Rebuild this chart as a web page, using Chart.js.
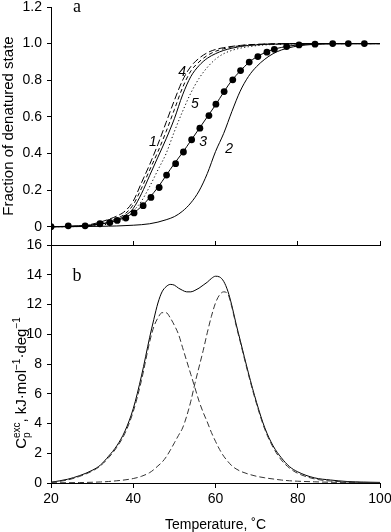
<!DOCTYPE html>
<html>
<head>
<meta charset="utf-8">
<script src="https://cdn.jsdelivr.net/npm/chart.js@4.4.1/dist/chart.umd.min.js"></script>
<style>
  html, body { margin: 0; padding: 0; background: #fff; }
  #wrap { position: relative; width: 391px; height: 532px; }
</style>
</head>
<body>
<div id="wrap"><canvas id="chart"></canvas></div>
<script>
// panel a: fraction of denatured state
var tempTop = [20, 24, 28, 32, 34, 36, 38, 40, 42, 44, 46, 48, 50, 52, 54, 56, 58, 60, 62, 64, 66, 68, 70, 72, 74, 76, 78, 80, 84, 88, 92, 96, 100];
var fracLongDash = [0, 0.001, 0.006, 0.025, 0.04, 0.058, 0.085, 0.14, 0.24, 0.34, 0.45, 0.57, 0.69, 0.8, 0.875, 0.92, 0.95, 0.968, 0.978, 0.985, 0.99, 0.994, 0.996, 0.998, 0.999, 1, 1, 1, 1, 1, 1, 1, 1];
var fracDash = [0, 0.001, 0.005, 0.018, 0.03, 0.045, 0.07, 0.12, 0.21, 0.31, 0.41, 0.52, 0.64, 0.76, 0.85, 0.9, 0.935, 0.958, 0.972, 0.982, 0.988, 0.993, 0.995, 0.997, 0.998, 0.999, 1, 1, 1, 1, 1, 1, 1];
var fracSolid1 = [0, 0.001, 0.004, 0.014, 0.024, 0.037, 0.06, 0.1, 0.18, 0.28, 0.38, 0.48, 0.59, 0.72, 0.82, 0.88, 0.92, 0.945, 0.963, 0.975, 0.984, 0.99, 0.993, 0.996, 0.997, 0.998, 0.999, 1, 1, 1, 1, 1, 1];
var fracDotted5 = [0, 0, 0.002, 0.008, 0.015, 0.025, 0.045, 0.085, 0.14, 0.22, 0.31, 0.4, 0.52, 0.63, 0.73, 0.81, 0.87, 0.915, 0.945, 0.963, 0.975, 0.983, 0.989, 0.993, 0.995, 0.997, 0.998, 0.999, 1, 1, 1, 1, 1];
var fracFit3 = [0, 0.002, 0.006, 0.014, 0.022, 0.034, 0.05, 0.075, 0.11, 0.16, 0.215, 0.28, 0.345, 0.405, 0.47, 0.535, 0.6, 0.665, 0.735, 0.8, 0.85, 0.895, 0.928, 0.95, 0.968, 0.979, 0.987, 0.993, 0.998, 1, 1, 1, 1];
var fracCurve2 = [0, 0, 0.001, 0.002, 0.003, 0.004, 0.006, 0.008, 0.011, 0.016, 0.025, 0.038, 0.055, 0.085, 0.13, 0.195, 0.29, 0.41, 0.51, 0.63, 0.74, 0.82, 0.875, 0.915, 0.945, 0.965, 0.978, 0.987, 0.996, 0.999, 1, 1, 1];

// experimental points (filled circles)
var dotTemp = [20, 24.2, 28.3, 31.9, 34.3, 36.1, 38.2, 40.2, 42.4, 44.3, 46.3, 48.1, 50.3, 52.2, 54.2, 56.2, 58.4, 60.1, 62.1, 64.2, 66.1, 68.2, 70.3, 72.5, 74.3, 77.3, 80.3, 84.2, 88.5, 92.3, 96.2];
var dotFrac = [0, 0.005, 0.005, 0.016, 0.023, 0.034, 0.047, 0.075, 0.115, 0.16, 0.214, 0.282, 0.344, 0.408, 0.475, 0.538, 0.607, 0.669, 0.738, 0.802, 0.853, 0.899, 0.929, 0.953, 0.969, 0.984, 0.993, 0.997, 1, 1, 1];
var fracTicks = [0, 0.2, 0.4, 0.6, 0.8, 1.0, 1.2];

// panel b: excess heat capacity and its two components
var tempBottom = [20, 24, 27, 30, 32, 34, 36, 38, 40, 42, 44, 45, 46, 47, 48, 49, 50, 51, 52, 53, 54, 55, 56, 57, 58, 59, 60, 61, 62, 63, 64, 65, 66, 68, 70, 72, 74, 76, 78, 80, 84, 88, 92, 96, 100];
var cpTotal = [0.05, 0.25, 0.5, 0.85, 1.2, 1.8, 2.5, 3.5, 5.0, 7.2, 9.8, 11.0, 12.1, 12.85, 13.2, 13.35, 13.3, 13.1, 12.95, 12.85, 12.85, 12.95, 13.1, 13.3, 13.5, 13.75, 13.9, 13.85, 13.55, 12.9, 11.9, 10.7, 9.6, 7.4, 5.4, 3.7, 2.5, 1.7, 1.1, 0.75, 0.35, 0.2, 0.1, 0.06, 0.04];
var cpPeak1 = [0.04, 0.2, 0.45, 0.8, 1.15, 1.7, 2.4, 3.35, 4.8, 6.9, 9.5, 10.5, 11.1, 11.45, 11.45, 11.1, 10.6, 10.0, 9.1, 8.2, 7.3, 6.4, 5.5, 4.75, 4.1, 3.4, 2.8, 2.25, 1.8, 1.45, 1.15, 0.95, 0.8, 0.6, 0.45, 0.35, 0.27, 0.2, 0.15, 0.12, 0.08, 0.05, 0.04, 0.03, 0.02];
var cpPeak2 = [0.01, 0.02, 0.03, 0.05, 0.07, 0.1, 0.15, 0.21, 0.3, 0.45, 0.7, 0.9, 1.15, 1.4, 1.75, 2.2, 2.7, 3.2, 3.7, 4.5, 5.5, 6.7, 7.8, 8.9, 10.1, 11.2, 12.1, 12.65, 12.85, 12.7, 11.8, 10.6, 9.5, 7.3, 5.3, 3.6, 2.4, 1.55, 1.0, 0.65, 0.28, 0.13, 0.07, 0.04, 0.03];

// curve numbers and panel letters
var curveLabels = [
  { text: '1', x: 44.8, y: 0.46 },
  { text: '4', x: 51.9, y: 0.845 },
  { text: '5', x: 55.0, y: 0.67 },
  { text: '3', x: 57.0, y: 0.46 },
  { text: '2', x: 63.3, y: 0.425 }
];
var panelLetters = [
  { text: 'a', x: 26.3, y: 1.2, axis: 'y' },
  { text: 'b', x: 26.3, y: 13.9, axis: 'y2' }
];

var FONT = '"Liberation Sans", Arial, Helvetica, sans-serif';
var SERIF = '"Liberation Serif", "Times New Roman", serif';

function pts(xs, ys) {
  return xs.map(function (t, i) { return { x: t, y: ys[i] }; });
}

function curve(xs, ys, axis, dash, color) {
  return {
    data: pts(xs, ys),
    yAxisID: axis,
    borderColor: color || '#000',
    borderWidth: 1,
    borderDash: dash || [],
    pointRadius: 0,
    fill: false,
    cubicInterpolationMode: 'monotone'
  };
}

// letters and curve numbers, placed in data coordinates
var textPlugin = {
  id: 'textLabels',
  afterDatasetsDraw: function (chart) {
    var ctx = chart.ctx;
    var xs = chart.scales.x;
    ctx.save();
    ctx.fillStyle = '#000';
    ctx.textAlign = 'center';
    ctx.textBaseline = 'middle';
    ctx.font = 'italic 14px ' + FONT;
    curveLabels.forEach(function (l) {
      ctx.fillText(l.text, xs.getPixelForValue(l.x), chart.scales.y.getPixelForValue(l.y));
    });
    ctx.font = '18px ' + SERIF;
    panelLetters.forEach(function (l) {
      ctx.fillText(l.text, xs.getPixelForValue(l.x), chart.scales[l.axis].getPixelForValue(l.y));
    });
    ctx.restore();
  }
};

// y title of panel b with sub- and superscripts
var cpTitlePlugin = {
  id: 'cpTitle',
  afterDraw: function (chart) {
    var s = chart.scales.y2;
    var ctx = chart.ctx;
    var big = '15px ' + FONT, small = '10px ' + FONT;
    var parts = [
      { t: 'C', f: big, dy: 0 },
      { t: 'p', f: small, dy: 4, sup: 'exc' },
      { t: ', kJ·mol', f: big, dy: 0 },
      { t: '−1', f: small, dy: -6 },
      { t: '·deg', f: big, dy: 0 },
      { t: '−1', f: small, dy: -6 }
    ];
    ctx.save();
    var total = 0;
    parts.forEach(function (p) {
      ctx.font = p.f;
      var w = ctx.measureText(p.t).width;
      if (p.sup) w = Math.max(w, ctx.measureText(p.sup).width);
      p.w = w;
      total += w;
    });
    ctx.translate(s.left + 26, (s.top + s.bottom) / 2 + 19);
    ctx.rotate(-Math.PI / 2);
    ctx.fillStyle = '#000';
    ctx.textBaseline = 'alphabetic';
    ctx.textAlign = 'left';
    var x = -total / 2;
    parts.forEach(function (p) {
      ctx.font = p.f;
      ctx.fillText(p.t, x, p.dy);
      if (p.sup) ctx.fillText(p.sup, x, -6);
      x += p.w;
    });
    ctx.restore();
  }
};

var tickFont = { family: FONT, size: 14 };

new Chart(document.getElementById('chart'), {
  type: 'line',
  data: {
    datasets: [
      curve(tempTop, fracLongDash, 'y', [7, 3]),
      curve(tempTop, fracDash, 'y', [4, 3]),
      curve(tempTop, fracSolid1, 'y'),
      curve(tempTop, fracDotted5, 'y', [1.2, 2.4]),
      curve(tempTop, fracFit3, 'y'),
      curve(tempTop, fracCurve2, 'y'),
      {
        data: pts(dotTemp, dotFrac),
        yAxisID: 'y',
        showLine: false,
        pointRadius: 3.4,
        pointBackgroundColor: '#000',
        pointBorderWidth: 0
      },
      curve(tempBottom, cpPeak1, 'y2', [6, 3], '#333'),
      curve(tempBottom, cpPeak2, 'y2', [6, 3], '#333'),
      curve(tempBottom, cpTotal, 'y2')
    ]
  },
  options: {
    responsive: true,
    maintainAspectRatio: false,
    animation: false,
    devicePixelRatio: 1,
    layout: { padding: 0 },
    plugins: { legend: { display: false }, tooltip: { enabled: false } },
    scales: {
      x: {
        type: 'linear', min: 20, max: 100, position: 'bottom',
        ticks: { stepSize: 20, color: '#000', font: tickFont, padding: 3, maxRotation: 0 },
        grid: { drawOnChartArea: false, tickLength: 5, color: '#000' },
        border: { color: '#000', width: 1 },
        title: { display: true, text: 'Temperature, ˚C', color: '#000', font: { family: FONT, size: 14, lineHeight: 1 }, padding: 0 },
        afterFit: function (s) { s.height = 49; s.paddingRight = 11; }
      },
      // listed first so it is stacked below panel a
      y2: {
        type: 'linear', min: 0, max: 16, position: 'left', stack: 'panels', stackWeight: 1,
        ticks: { stepSize: 2, autoSkip: false, color: '#000', font: tickFont, padding: 5 },
        grid: { drawOnChartArea: false, tickLength: 4, color: '#000' },
        border: { color: '#000', width: 1 },
        afterFit: function (s) { s.width = 51; s.paddingTop = 7; }
      },
      y: {
        type: 'linear', min: -0.1, max: 1.2, position: 'left', stack: 'panels', stackWeight: 1,
        afterBuildTicks: function (s) {
          s.ticks = fracTicks.map(function (v) { return { value: v }; });
        },
        ticks: {
          autoSkip: false, color: '#000', font: tickFont, padding: 5,
          callback: function (v) { return v === 0 ? '0' : v.toFixed(1); }
        },
        grid: { drawOnChartArea: false, tickLength: 4, color: '#000' },
        border: { color: '#000', width: 1 },
        title: { display: true, text: 'Fraction of denatured state', color: '#000', font: { family: FONT, size: 15 }, padding: 0 },
        afterFit: function (s) { s.width = 51; s.paddingTop = 7; }
      },
      xMid: {
        type: 'linear', min: 20, max: 100, position: { y: -0.1 },
        ticks: { display: false, stepSize: 20 },
        grid: { drawOnChartArea: false, tickLength: -5, color: '#000' },
        border: { color: '#000', width: 1 }
      }
    }
  },
  plugins: [textPlugin, cpTitlePlugin]
});
</script>
</body>
</html>
